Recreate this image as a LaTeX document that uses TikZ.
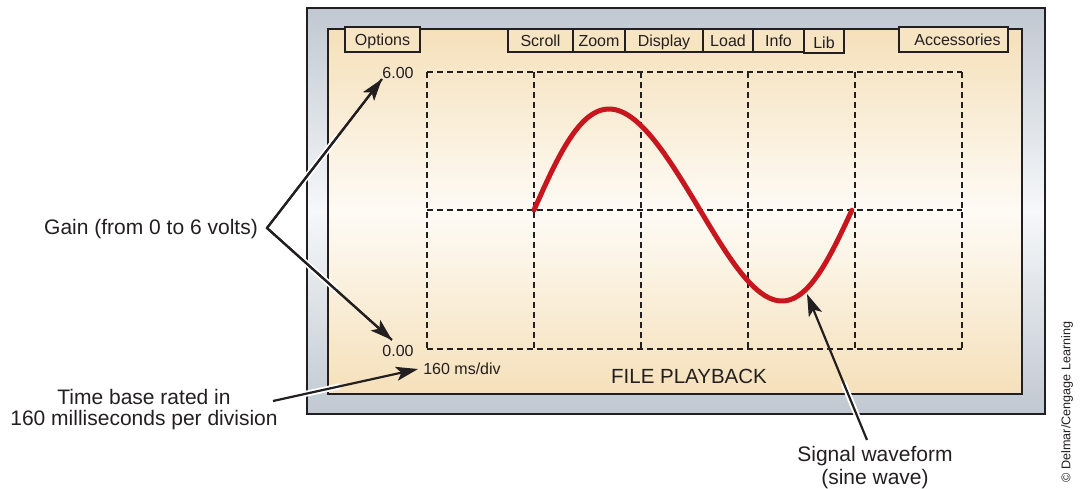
\documentclass[tikz,border=0pt]{standalone}
\usepackage{fontspec}
\setmainfont{Liberation Sans}
\usetikzlibrary{arrows.meta}
\definecolor{framegray}{RGB}{192,200,209}
\definecolor{framelight}{RGB}{246,248,250}
\definecolor{panelbeige}{RGB}{245,224,186}
\definecolor{panellight}{RGB}{254,251,245}
\definecolor{tabbeige}{RGB}{246,228,194}
\definecolor{wavered}{RGB}{200,22,30}
\definecolor{ink}{RGB}{35,31,32}
\begin{document}
\begin{tikzpicture}[x=1pt,y=-1pt,
  lbl/.style={inner sep=0pt, font=\fontsize{21}{21}\selectfont, text=ink},
  small/.style={inner sep=0pt, font=\fontsize{16}{19}\selectfont, text=ink},
  tabbox/.style={draw=ink, line width=1.6pt, fill=tabbeige, inner sep=0pt,
     font=\fontsize{16}{19}\selectfont, text=ink, text height=11.5pt, text depth=0.5pt},
  ptr/.style={line width=2.2pt, draw=ink, -{Stealth[length=22pt,width=14pt,inset=5pt]}},
  halo/.style={draw=white, line width=6pt},
  gridline/.style={dash pattern=on 6pt off 4pt, line width=1.4pt, draw=ink},
  wave/.style={draw=wavered, line width=5pt, line cap=round, line join=round},
]
\useasboundingbox (0,0) rectangle (1086,488);

% outer frame
\path[top color=framegray, bottom color=framegray, middle color=framelight]
  (307,8) rectangle (1045,414);
\draw[ink, line width=2pt] (307,8) rectangle (1045,414);
% inner panel
\path[top color=panelbeige, bottom color=panelbeige, middle color=panellight]
  (328,29) rectangle (1022,394);
\draw[ink, line width=2.4pt] (328,29) rectangle (1022,394);

% tabs
\node[tabbox, minimum width=75pt, minimum height=25pt] (options) at (382.5,39.5) {Options};
\node[tabbox, minimum width=109pt, minimum height=25pt] (acc) at (953.5,39.5) {\hspace{8pt}Accessories};
\node[tabbox, minimum width=65pt, minimum height=23pt] (scroll) at (540.5,40.5) {Scroll};
\node[tabbox, minimum width=52pt, minimum height=23pt] (zoom) at (599,40.5) {Zoom};
\node[tabbox, minimum width=78pt, minimum height=23pt] (display) at (664,40.5) {Display};
\node[tabbox, minimum width=50pt, minimum height=23pt] (load) at (728,40.5) {Load};
\node[tabbox, minimum width=51pt, minimum height=23pt] (info) at (778.5,40.5) {Info};
\node[tabbox, minimum width=40pt, minimum height=24pt, text height=14pt, text depth=0pt] (lib) at (824,41) {Lib};

% grid
\foreach \gx in {427,534,641,748,855,962}{
  \draw[gridline] (\gx,72) -- (\gx,349);
}
\draw[gridline] (427,72) -- (962,72);
\draw[gridline] (427,210) -- (962,210);
\draw[gridline] (427,349) -- (962,349);

% sine wave
\draw[wave] plot[domain=0:1, samples=60] ({534+166*\x-8*sin(180*\x)},{210-101*sin(180*\x)})
  -- plot[domain=0:1, samples=60] ({700+152*\x+6*sin(180*\x)},{210+91*sin(180*\x)});

% screen labels
\node[small] (v6) at (398,73) {6.00};
\node[small] (v0) at (398,351) {0.00};
\node[small] (tb) at (462,369) {160 ms/div};
\node[inner sep=0pt, font=\fontsize{20.5}{24}\selectfont, text=ink] (fp) at (689,376) {FILE PLAYBACK};

% callout texts
\node[lbl, anchor=east] (gain) at (258,229) {Gain (from 0 to 6 volts)};
\node[lbl, align=center] (time) at (144,410) {Time base rated in\\160 milliseconds per division};
\node[lbl, align=center, font=\fontsize{21}{23}\selectfont] (sig) at (875,468) {Signal waveform\\(sine wave)};
\node[inner sep=0pt, rotate=90, font=\fontsize{12.6}{14}\selectfont, text=ink] (copy) at (1067,402) {\textcopyright\ Delmar/Cengage Learning};

% connector points
\coordinate (gv) at (267,228);
\coordinate (t6) at (382,79);
\coordinate (t0) at (392,340);
\coordinate (tt) at (273,401);
\coordinate (ttip) at (418,369);
\coordinate (st) at (867,440);
\coordinate (stip) at (807,294);

% halos where arrows cross the frame
\draw[halo, shorten <=52pt, shorten >=72pt] (gv) -- (t6);
\draw[halo, shorten <=44pt, shorten >=74pt] (gv) -- (t0);
\draw[halo, shorten <=22pt, shorten >=80pt] (tt) -- (ttip);
\draw[halo, shorten <=18pt, shorten >=96pt] (st) -- (stip);

% arrows
\draw[ptr] (gv) -- (t6);
\draw[ptr] (gv) -- (t0);
\draw[line width=2.2pt, ink, line join=miter] (t6) -- (gv) -- (t0);
\draw[ptr] (tt) -- (ttip);
\draw[ptr] (st) -- (stip);
\end{tikzpicture}
\end{document}
